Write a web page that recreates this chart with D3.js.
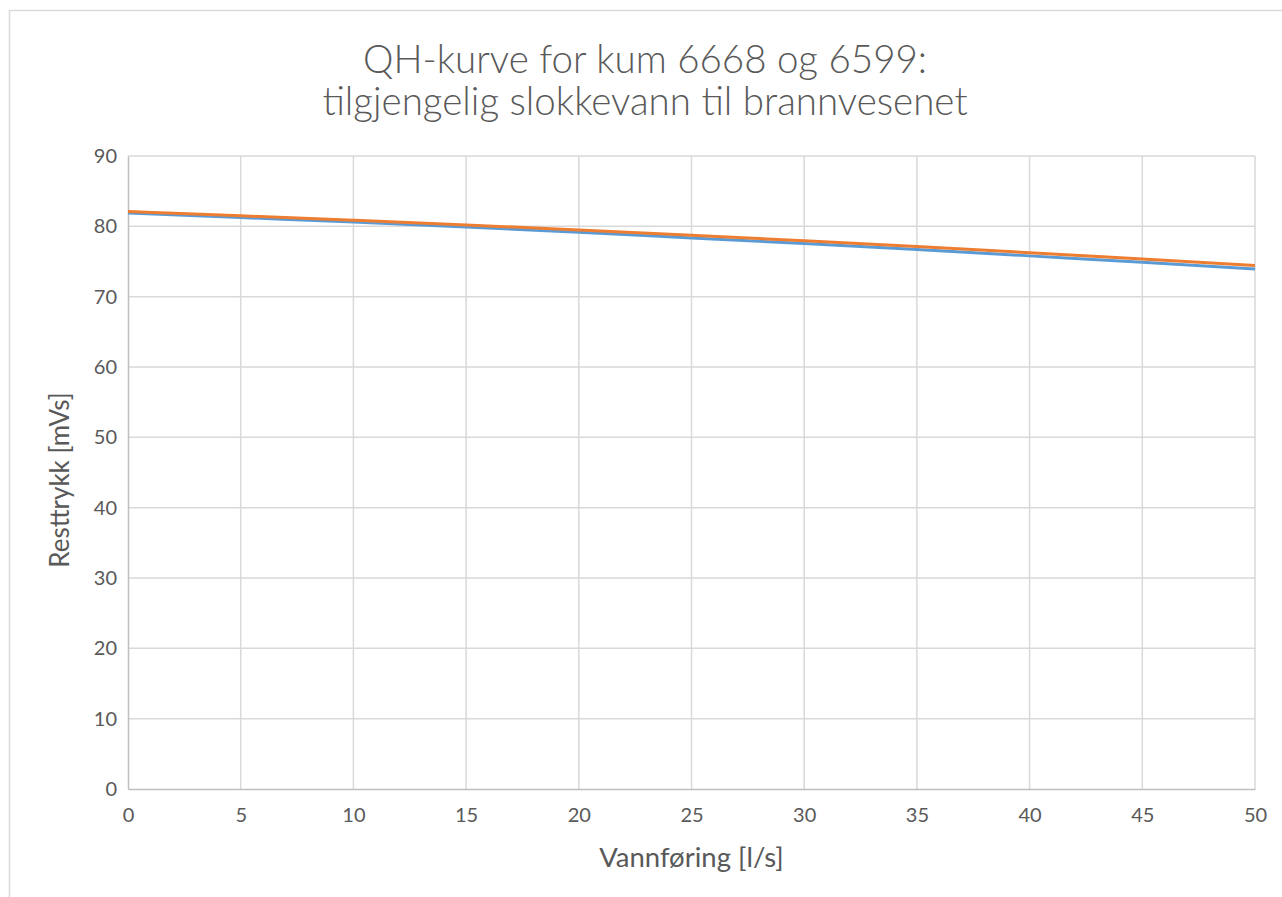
<!DOCTYPE html>
<html>
<head>
<meta charset="utf-8">
<script src="https://cdn.jsdelivr.net/npm/d3@7"></script>
<style>
  html, body { margin: 0; padding: 0; background: #fff; }
  svg { display: block; }
  text { font-family: Lato, "Open Sans", "Liberation Sans", sans-serif; fill: #595959; }
</style>
</head>
<body>
<svg id="chart" width="1282" height="897"></svg>
<script>
const titleLines = ["QH-kurve for kum 6668 og 6599:", "tilgjengelig slokkevann til brannvesenet"];
const xLabel = "Vannføring [l/s]";
const yLabel = "Resttrykk [mVs]";
const flows = [0, 5, 10, 15, 20, 25, 30, 35, 40, 45, 50];
const seriesBlue = [81.9, 81.25, 80.6, 79.9, 79.15, 78.35, 77.55, 76.7, 75.8, 74.9, 73.95];
const seriesOrange = [82.1, 81.5, 80.86, 80.19, 79.48, 78.73, 77.95, 77.12, 76.26, 75.36, 74.43];
const xTicks = [0, 5, 10, 15, 20, 25, 30, 35, 40, 45, 50];
const yTicks = [0, 10, 20, 30, 40, 50, 60, 70, 80, 90];

const svg = d3.select("#chart");
const m = { left: 128, right: 1255, top: 156, bottom: 789 };

svg.append("rect").attr("x", 9.5).attr("y", 10.5).attr("width", 1300).attr("height", 1000)
  .attr("fill", "#fff").attr("stroke", "#d9d9d9").attr("stroke-width", 1.5);

const x = d3.scaleLinear().domain([0, 50]).range([m.left, m.right]);
const y = d3.scaleLinear().domain([0, 90]).range([m.bottom, m.top]);

// gridlines
svg.append("g").selectAll("line").data(yTicks.filter(d => d > 0)).join("line")
  .attr("x1", m.left).attr("x2", m.right)
  .attr("y1", d => y(d)).attr("y2", d => y(d))
  .attr("stroke", "#d9d9d9").attr("stroke-width", 1.5);
svg.append("g").selectAll("line").data(xTicks.filter(d => d > 0)).join("line")
  .attr("x1", d => x(d)).attr("x2", d => x(d))
  .attr("y1", m.top).attr("y2", m.bottom)
  .attr("stroke", "#d9d9d9").attr("stroke-width", 1.5);

// axes
const xAxis = svg.append("g").attr("transform", `translate(0,${m.bottom})`)
  .call(d3.axisBottom(x).tickValues(xTicks).tickSize(0).tickPadding(19));
xAxis.select(".domain").attr("stroke", "#bfbfbf").attr("stroke-width", 1.5);
xAxis.selectAll("text").style("font-size", "20px").style("font-family", "Lato, sans-serif").attr("fill", "#595959");

const yAxis = svg.append("g").attr("transform", `translate(${m.left},0)`)
  .call(d3.axisLeft(y).tickValues(yTicks).tickSize(0).tickPadding(11));
yAxis.select(".domain").attr("stroke", "#bfbfbf").attr("stroke-width", 1.5);
yAxis.selectAll("text").style("font-size", "20px").style("font-family", "Lato, sans-serif").attr("fill", "#595959");

// lines
const line = d3.line().x((d, i) => x(flows[i])).y(d => y(d)).curve(d3.curveMonotoneX);
svg.append("path").datum(seriesBlue).attr("d", line)
  .attr("fill", "none").attr("stroke", "#5B9BD5").attr("stroke-width", 3);
svg.append("path").datum(seriesOrange).attr("d", line)
  .attr("fill", "none").attr("stroke", "#ED7D31").attr("stroke-width", 3);

// titles
svg.append("g").selectAll("text").data(titleLines).join("text")
  .attr("x", 645).attr("y", (d, i) => 73 + i * 42)
  .attr("text-anchor", "middle").style("font-size", "38.5px").style("font-weight", 300).text(d => d);

svg.append("text").attr("x", x(25)).attr("y", 867).attr("text-anchor", "middle")
  .style("font-size", "27.5px").text(xLabel);
svg.append("text").attr("transform", `translate(69,480) rotate(-90)`)
  .attr("text-anchor", "middle").style("font-size", "26px").text(yLabel);
</script>
</body>
</html>
